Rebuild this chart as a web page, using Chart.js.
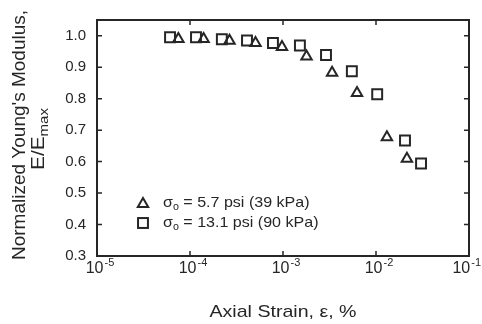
<!DOCTYPE html>
<html>
<head>
<meta charset="utf-8">
<script src="https://cdn.jsdelivr.net/npm/chart.js@4"></script>
<style>
  html, body { margin: 0; padding: 0; background: #fff; }
  #wrap { width: 482px; height: 324px; }
</style>
</head>
<body>
<div id="wrap"><canvas id="myChart" width="482" height="324"></canvas></div>
<script>
// strain (%) and E/Emax
var strainLow = [7.5e-5, 1.4e-4, 2.66e-4, 5.06e-4, 9.75e-4, 1.79e-3, 3.37e-3, 6.25e-3, 1.31e-2, 2.15e-2]
var modLow = [0.99, 0.99, 0.984, 0.977, 0.964, 0.934, 0.882, 0.818, 0.677, 0.609]

var strainHigh = [6.1e-5, 1.16e-4, 2.2e-4, 4.1e-4, 7.8e-4, 1.52e-3, 2.9e-3, 5.5e-3, 1.03e-2, 2.05e-2, 3.05e-2]
var modHigh = [0.995, 0.995, 0.989, 0.985, 0.977, 0.969, 0.939, 0.887, 0.814, 0.667, 0.594]

var xTicks = [1e-5, 1e-4, 1e-3, 1e-2, 1e-1]
var xExp = ['-5', '-4', '-3', '-2', '-1']
var yTicks = [0.3, 0.4, 0.5, 0.6, 0.7, 0.8, 0.9, 1.0]

var legendLow = ' = 5.7 psi (39 kPa)'
var legendHigh = ' = 13.1 psi (90 kPa)'

var ink = '#262626'
var font = '"Liberation Sans", Arial, Helvetica, sans-serif'

function pts(xs, ys) {
    return xs.map(function (x, i) { return { x: x, y: ys[i] } })
}

function tri(ctx, x, y, r) {
    ctx.beginPath()
    ctx.moveTo(x, y - r)
    ctx.lineTo(x + 0.866 * r, y + 0.5 * r)
    ctx.lineTo(x - 0.866 * r, y + 0.5 * r)
    ctx.closePath()
    ctx.stroke()
}

function sq(ctx, x, y, r) {
    var s = r * Math.SQRT1_2
    ctx.strokeRect(x - s, y - s, 2 * s, 2 * s)
}

// write text stretched to a given length
function fitText(ctx, parts, x, y, len) {
    var total = 0
    parts.forEach(function (p) { ctx.font = p.size + 'px ' + font; total += ctx.measureText(p.t).width })
    var k = len / total
    ctx.save()
    ctx.translate(x - len / 2, y)
    ctx.scale(k, 1)
    var cx = 0
    parts.forEach(function (p) {
        ctx.font = p.size + 'px ' + font
        ctx.fillText(p.t, cx, p.dy || 0)
        cx += ctx.measureText(p.t).width
    })
    ctx.restore()
}

var decor = {
    id: 'decor',
    afterDraw: function (chart) {
        var ctx = chart.ctx
        var a = chart.chartArea
        var xs = chart.scales.x, ys = chart.scales.y
        ctx.save()
        ctx.strokeStyle = ink
        ctx.fillStyle = ink

        // frame
        ctx.lineWidth = 2
        ctx.strokeRect(a.left, a.top, a.right - a.left, a.bottom - a.top)

        // inward ticks on all four sides
        ctx.lineWidth = 1.5
        ctx.beginPath()
        xTicks.slice(1, -1).forEach(function (v) {
            var px = xs.getPixelForValue(v)
            ctx.moveTo(px, a.bottom); ctx.lineTo(px, a.bottom - 5)
            ctx.moveTo(px, a.top); ctx.lineTo(px, a.top + 5)
        })
        yTicks.forEach(function (v) {
            var py = ys.getPixelForValue(v)
            ctx.moveTo(a.left, py); ctx.lineTo(a.left + 5, py)
            ctx.moveTo(a.right, py); ctx.lineTo(a.right - 5, py)
        })
        ctx.stroke()

        // x tick labels 10^n, whole label centred a bit right of the tick
        ctx.textBaseline = 'middle'
        ctx.textAlign = 'left'
        xTicks.forEach(function (v, i) {
            var px = xs.getPixelForValue(v)
            ctx.font = '16px ' + font
            var w = ctx.measureText('10').width
            ctx.font = '11px ' + font
            var we = ctx.measureText(xExp[i]).width
            var total = w + 1 + we
            var left = Math.min(px + 3 - total / 2, 481 - total)
            ctx.font = '16px ' + font
            ctx.fillText('10', left, 269)
            ctx.font = '11px ' + font
            ctx.fillText(xExp[i], left + w + 1, 263)
        })

        // axis titles
        fitText(ctx, [{ t: 'Axial Strain, ε, %', size: 17 }], (a.left + a.right) / 2, 312, 147)

        ctx.save()
        ctx.translate(20, 135)
        ctx.rotate(-Math.PI / 2)
        fitText(ctx, [{ t: "Normalized Young's Modulus,", size: 18 }], 0, 0, 250)
        ctx.restore()

        ctx.save()
        ctx.translate(41, 139)
        ctx.rotate(-Math.PI / 2)
        fitText(ctx, [{ t: 'E/E', size: 18 }, { t: 'max', size: 13, dy: 5 }], 0, -2, 62)
        ctx.restore()

        // legend
        ctx.lineWidth = 2
        tri(ctx, 143, 204, 6)
        sq(ctx, 143, 223, 7)
        var rows = [[203, legendLow], [223, legendHigh]]
        rows.forEach(function (r) {
            ctx.save()
            ctx.translate(163, r[0])
            ctx.scale(1.07, 1)
            ctx.font = '15px ' + font
            ctx.fillText('σ', 0, 0)
            var w = ctx.measureText('σ').width
            ctx.font = '10px ' + font
            ctx.fillText('o', w, 4)
            var w2 = ctx.measureText('o').width
            ctx.font = '15px ' + font
            ctx.fillText(r[1], w + w2, 0)
            ctx.restore()
        })
        ctx.restore()
    }
}

var ctx = document.getElementById('myChart')

new Chart(ctx, {
    type: 'scatter',
    data: {
        datasets: [{
            label: 'σo = 13.1 psi (90 kPa)',
            data: pts(strainHigh, modHigh),
            pointStyle: 'rect',
            pointRadius: 7,
            borderColor: ink,
            backgroundColor: 'transparent',
            borderWidth: 2
        }, {
            label: 'σo = 5.7 psi (39 kPa)',
            data: pts(strainLow, modLow),
            pointStyle: 'triangle',
            pointRadius: 6,
            borderColor: ink,
            backgroundColor: 'transparent',
            borderWidth: 2
        }]
    },
    options: {
        responsive: false,
        animation: false,
        layout: { padding: { left: 0, right: 13, top: 11, bottom: 0 } },
        plugins: { legend: { display: false }, tooltip: { enabled: false } },
        scales: {
            x: {
                type: 'logarithmic',
                min: 1e-5,
                max: 1e-1,
                afterBuildTicks: function (s) { s.ticks = xTicks.map(function (v) { return { value: v } }) },
                afterFit: function (s) { s.height = 68 },
                grid: { display: false, drawTicks: false },
                border: { display: false },
                ticks: { display: false }
            },
            y: {
                min: 0.3,
                max: 1.05,
                afterBuildTicks: function (s) { s.ticks = yTicks.map(function (v) { return { value: v } }) },
                afterFit: function (s) { s.width = 97 },
                grid: { display: false, drawTicks: false },
                border: { display: false },
                ticks: {
                    padding: 11,
                    color: ink,
                    font: { size: 15, family: font },
                    callback: function (v) { return v.toFixed(1) }
                }
            }
        }
    },
    plugins: [decor]
});
</script>
</body>
</html>
